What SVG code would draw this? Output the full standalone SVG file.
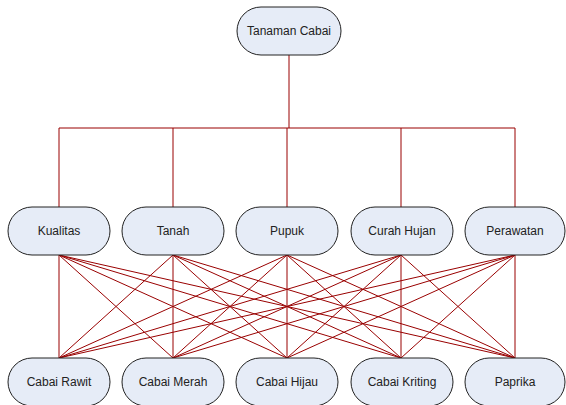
<svg xmlns="http://www.w3.org/2000/svg" width="566" height="405" viewBox="0 0 566 405">
<style>
.n rect{fill:#E6ECF7;stroke:#222;stroke-width:1}
.n text{font-family:"Liberation Sans",Arial,sans-serif;font-size:12px;fill:#222;text-anchor:middle;dominant-baseline:central}
.c line,.c path{stroke:#990000;stroke-width:1;fill:none}
</style>
<rect width="566" height="405" fill="#fff"/>
<g class="c">
<path d="M289 55V128M59 128H515M59 128V207M173 128V207M287 128V207M401 128V207M515 128V207"/>
<line x1="59" y1="255" x2="59" y2="358"/><line x1="59" y1="255" x2="173" y2="358"/><line x1="59" y1="255" x2="287" y2="358"/><line x1="59" y1="255" x2="401" y2="358"/><line x1="59" y1="255" x2="515" y2="358"/>
<line x1="173" y1="255" x2="59" y2="358"/><line x1="173" y1="255" x2="173" y2="358"/><line x1="173" y1="255" x2="287" y2="358"/><line x1="173" y1="255" x2="401" y2="358"/><line x1="173" y1="255" x2="515" y2="358"/>
<line x1="287" y1="255" x2="59" y2="358"/><line x1="287" y1="255" x2="173" y2="358"/><line x1="287" y1="255" x2="287" y2="358"/><line x1="287" y1="255" x2="401" y2="358"/><line x1="287" y1="255" x2="515" y2="358"/>
<line x1="401" y1="255" x2="59" y2="358"/><line x1="401" y1="255" x2="173" y2="358"/><line x1="401" y1="255" x2="287" y2="358"/><line x1="401" y1="255" x2="401" y2="358"/><line x1="401" y1="255" x2="515" y2="358"/>
<line x1="515" y1="255" x2="59" y2="358"/><line x1="515" y1="255" x2="173" y2="358"/><line x1="515" y1="255" x2="287" y2="358"/><line x1="515" y1="255" x2="401" y2="358"/><line x1="515" y1="255" x2="515" y2="358"/>
</g>
<g id="tanaman" class="n"><rect x="237" y="7" width="104" height="48" rx="24"/><text x="289" y="31">Tanaman Cabai</text></g>
<g id="kualitas" class="n"><rect x="8" y="207" width="102" height="48" rx="24"/><text x="59" y="231">Kualitas</text></g>
<g id="tanah" class="n"><rect x="122" y="207" width="102" height="48" rx="24"/><text x="173" y="231">Tanah</text></g>
<g id="pupuk" class="n"><rect x="236" y="207" width="102" height="48" rx="24"/><text x="287" y="231">Pupuk</text></g>
<g id="curah" class="n"><rect x="351" y="207" width="102" height="48" rx="24"/><text x="402" y="231">Curah Hujan</text></g>
<g id="perawatan" class="n"><rect x="465" y="207" width="100" height="48" rx="24"/><text x="515" y="231">Perawatan</text></g>
<g id="rawit" class="n"><rect x="8" y="358" width="102" height="48" rx="24"/><text x="59" y="382">Cabai Rawit</text></g>
<g id="merah" class="n"><rect x="122" y="358" width="102" height="48" rx="24"/><text x="173" y="382">Cabai Merah</text></g>
<g id="hijau" class="n"><rect x="236" y="358" width="102" height="48" rx="24"/><text x="287" y="382">Cabai Hijau</text></g>
<g id="kriting" class="n"><rect x="351" y="358" width="102" height="48" rx="24"/><text x="402" y="382">Cabai Kriting</text></g>
<g id="paprika" class="n"><rect x="465" y="358" width="100" height="48" rx="24"/><text x="515" y="382">Paprika</text></g>
</svg>
